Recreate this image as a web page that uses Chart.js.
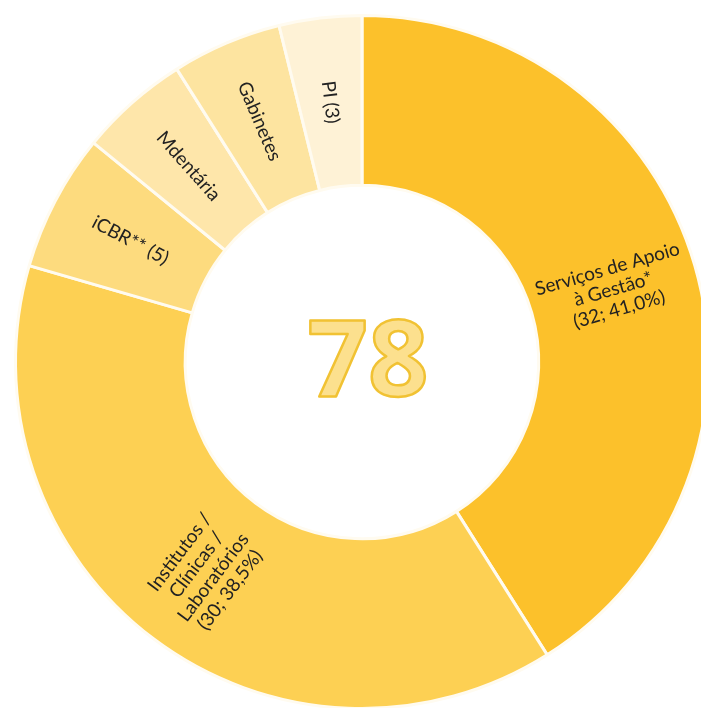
<!DOCTYPE html>
<html>
<head>
<meta charset="utf-8">
<script src="https://cdn.jsdelivr.net/npm/chart.js@4"></script>
<style>
  html, body { margin: 0; padding: 0; background: #ffffff; overflow: hidden; }
  #wrap { width: 724px; height: 724px; }
</style>
</head>
<body>
<div id="wrap"><canvas id="donut" width="724" height="724"></canvas></div>
<script>
// --- DATA ---
const categories = ['Serviços de Apoio à Gestão*', 'Institutos / Clínicas / Laboratórios', 'iCBR**', 'Mdentária', 'Gabinetes', 'PI'];
const counts = [32, 30, 5, 4, 4, 3];
const labelLines = [
    ['Serviços de Apoio', 'à Gestão*', '(32; 41,0%)'],
    ['Institutos /', 'Clínicas /', 'Laboratórios', '(30; 38,5%)'],
    ['iCBR** (5)'],
    ['Mdentária'],
    ['Gabinetes'],
    ['PI (3)']
];
const sliceColors = ['#FCC12B', '#FDD053', '#FDDB7E', '#FEE6AA', '#FDE4A0', '#FEF2D6'];
const totalLabel = '78';

// --- PLUGIN: radial slice labels + big total in the hole ---
const sliceLabels = {
    id: 'sliceLabels',
    afterDatasetsDraw(chart) {
        const ctx = chart.ctx;
        const arcs = chart.getDatasetMeta(0).data;
        ctx.save();
        ctx.fillStyle = '#222222';
        ctx.font = '19px Lato';
        ctx.textAlign = 'center';
        ctx.textBaseline = 'middle';
        arcs.forEach((arc, i) => {
            const mid = (arc.startAngle + arc.endAngle) / 2;
            const r = (arc.innerRadius + arc.outerRadius) / 2;
            const x = arc.x + Math.cos(mid) * r;
            const y = arc.y + Math.sin(mid) * r;
            // keep text readable: read outward on the right, inward on the left
            let rot = Math.cos(mid) >= 0 ? mid : mid + Math.PI;
            const lines = labelLines[i];
            const lh = 21;
            ctx.save();
            ctx.translate(x, y);
            ctx.rotate(rot);
            lines.forEach((line, k) => {
                ctx.fillText(line, 0, (k - (lines.length - 1) / 2) * lh);
            });
            ctx.restore();
        });

        // total in the middle
        const c = arcs[0];
        ctx.font = 'bold 106px "Open Sans"';
        ctx.lineJoin = 'round';
        ctx.fillStyle = '#FCE08E';
        ctx.strokeStyle = '#F1C233';
        ctx.lineWidth = 2.5;
        ctx.fillText(totalLabel, c.x + 6, c.y + 4);
        ctx.strokeText(totalLabel, c.x + 6, c.y + 4);
        ctx.restore();
    }
};

new Chart(document.getElementById('donut'), {
    type: 'doughnut',
    data: {
        labels: categories,
        datasets: [{
            data: counts,
            backgroundColor: sliceColors,
            borderColor: '#FFFBF0',
            borderWidth: 3
        }]
    },
    options: {
        responsive: false,
        animation: false,
        cutout: '51%',
        layout: { padding: 14 },
        plugins: {
            legend: { display: false },
            tooltip: { enabled: false }
        }
    },
    plugins: [sliceLabels]
});
</script>
</body>
</html>
